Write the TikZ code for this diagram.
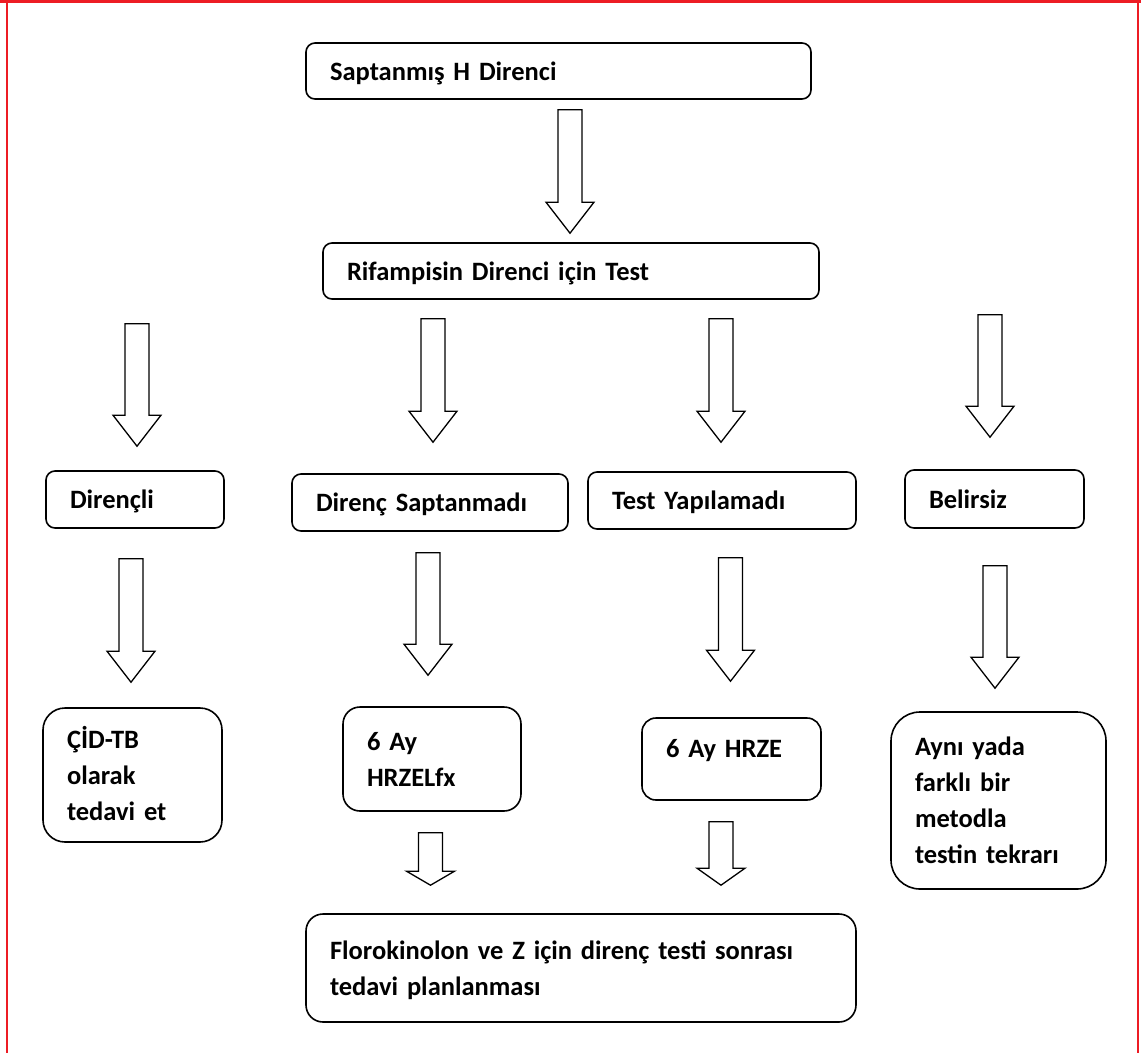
\documentclass[tikz,border=0pt]{standalone}
\usepackage{fontspec}
\setmainfont{Carlito}[WordSpace={1,0,0}]
\usetikzlibrary{calc}
\definecolor{framered}{RGB}{237,28,36}

% hollow block arrow: x and tip from #3, shaft top from #2, #1 = head length
\newcommand{\flowarrow}[3][31pt]{%
  \draw[hollow] let \p1=#2, \p2=#3 in
    (\x2-12pt,\y1) -- (\x2+12pt,\y1) -- (\x2+12pt,\y2+#1) -- (\x2+24pt,\y2+#1)
    -- (\x2,\y2) -- (\x2-24pt,\y2+#1) -- (\x2-12pt,\y2+#1) -- cycle;}

\begin{document}
\begin{tikzpicture}[x=1pt,y=-1pt,font=\fontsize{26.5}{36}\selectfont\bfseries]

\tikzstyle{box}=[draw=black,line width=1.6pt,align=left,inner xsep=24pt,inner ysep=0pt,text height=18pt,text depth=0pt]
\tikzstyle{hollow}=[draw=black,line width=1.3pt,fill=white,line join=miter]

    \useasboundingbox (0,0) rectangle (1141,1053);
    % red frame
    \fill[framered] (0,0) rectangle (1141,3.3);
    \fill[framered] (5.8,0) rectangle (7.8,1053);
    \fill[framered] (1136.5,0) rectangle (1138.5,1053);

    \node[box,rounded corners=9pt,text width=457pt,minimum height=56pt]  (sapt)   at (558.5,71)  {Saptanmış H Direnci};
    \node[box,rounded corners=9pt,text width=448pt,minimum height=56pt]  (rif)    at (571,271)   {Rifampisin Direnci için Test};

    \node[box,rounded corners=9pt,text width=130pt,minimum height=57pt]  (dirl)   at (135,499.5) {Dirençli};
    \node[box,rounded corners=9pt,text width=228pt,minimum height=57pt]  (dsapt)  at (430,502.5) {Direnç Saptanmadı};
    \node[box,rounded corners=9pt,text width=220pt,minimum height=57pt]  (tyap)   at (722,500.5) {Test Yapılamadı};
    \node[box,rounded corners=9pt,text width=131pt,minimum height=58pt]  (belir)  at (994.5,499) {Belirsiz};

    \node[box,rounded corners=22pt,text width=131pt,minimum height=134pt,text depth=72pt] (cid) at (132.5,775) {ÇİD-TB\\olarak\\tedavi et};
    \node[box,rounded corners=17pt,text width=130pt,minimum height=104pt,text depth=36pt] (hrzel) at (432,759) {6 Ay\\HRZELfx};
    \node[box,rounded corners=14pt,text width=131pt,minimum height=82pt,text depth=22pt] (hrze) at (731.5,759) {6 Ay HRZE};
    \node[box,rounded corners=29pt,text width=167pt,minimum height=177pt,text depth=108pt] (ayni) at (998.5,800.5) {Aynı yada\\farklı bir\\metodla\\testin tekrarı};

    \node[box,rounded corners=17pt,text width=502pt,minimum height=108pt,text depth=36pt] (plan) at (581,968) {Florokinolon ve Z için direnç testi sonrası\\tedavi planlanması};

    \flowarrow{($(sapt.south)+(0,10)$)}{($(rif.north)+(-1,-9)$)}
    \flowarrow{($(rif.south)+(0,24)$)}{($(dirl.north)+(2,-24)$)}
    \flowarrow{($(rif.south)+(0,19)$)}{($(dsapt.north)+(3,-31)$)}
    \flowarrow{($(rif.south)+(0,19)$)}{($(tyap.north)+(-1,-29)$)}
    \flowarrow{($(rif.south)+(0,15)$)}{($(belir.north)+(-4.5,-32)$)}

    \flowarrow{($(dirl.south)+(0,30)$)}{($(cid.north)+(-1.5,-25)$)}
    \flowarrow{($(dsapt.south)+(0,21)$)}{($(hrzel.north)+(-4,-31)$)}
    \flowarrow{($(tyap.south)+(0,28)$)}{($(hrze.north)+(-1,-36)$)}
    \flowarrow{($(belir.south)+(0,37)$)}{($(ayni.north)+(-3.5,-23)$)}

    \flowarrow[14pt]{($(hrzel.south)+(0,21)$)}{($(plan.north)+(-150.5,-28)$)}
    \flowarrow[17pt]{($(hrze.south)+(0,21)$)}{($(plan.north)+(140,-28)$)}

\end{tikzpicture}
\end{document}
